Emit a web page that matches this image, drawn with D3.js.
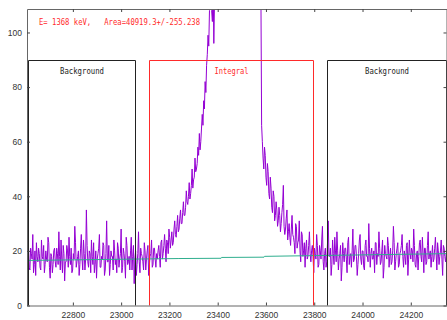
<!DOCTYPE html>
<html><head><meta charset="utf-8">
<script src="https://cdn.jsdelivr.net/npm/d3@7"></script>
<style>body{margin:0;background:#fff;} svg{display:block;}</style>
</head><body>
<svg id="c" width="447" height="320"></svg>
<script>
// ---- data ----
const channelStart = 22610;
const channelStep = 3;
// counts at even channels (22610, 22616, ...)
const countsA = [
  16,22,13,19,26,15,11,18,21,14,24,17,12,20,16,23,10,18,15,21,
  14,19,27,13,17,22,9,16,20,25,15,12,19,29,14,18,11,21,17,24,
  13,35,16,20,12,18,23,15,10,19,26,14,17,22,13,31,16,11,20,18,
  24,15,12,21,17,28,14,19,10,22,16,13,25,18,8,20,15,27,12,19,
  16,23,13,20,11,18,24,15,21,14,
  17,22,14,24,19,26,16,23,28,21,27,23,31,25,33,28,35,30,38,33,
  42,37,45,41,50,46,54,50,58,63,60,70,75,82,88,99,108,
  112,104,96,115,125,150,175,200,230,260,290,320,345,365,380,392,398,400,
  396,388,374,356,334,310,284,258,232,208,186,166,150,138,128,122,118,
  66,54,58,47,52,41,47,36,42,31,38,29,36,27,34,44,26,32,24,30,
  22,33,25,19,29,23,31,16,26,20,14,24,18,27,16,22,12,
  19,26,14,22,17,29,13,21,16,31,18,11,24,15,20,27,13,19,9,23,
  16,21,12,25,18,14,28,17,22,11,19,26,15,20,13,24,18,30,14,21,
  17,12,23,19,27,15,20,10,22,18,25,14,21,16,29,13,19,23,15,20,
  26,14,18,22,11,24,17,20,28,15,19,13,23,18,25,12,21,16,27,19,
  14,22,17,25,13,20,18,24,11,21,16,19
];
// counts at the channels in between (22613, 22619, ...)
const countsB = [
  18,14,21,17,12,20,23,16,19,13,18,22,15,17,25,14,19,12,20,16,
  21,15,18,24,12,19,16,22,14,18,21,13,17,23,16,20,15,26,13,19,
  17,22,14,19,24,15,12,20,17,21,14,18,23,11,19,16,22,15,18,13,
  20,17,23,14,19,12,21,16,25,15,18,20,13,22,17,11,19,16,21,18,
  13,20,17,22,15,19,14,21,17,19,
  20,18,23,17,22,21,24,19,25,24,22,28,26,29,27,32,30,34,33,36,
  38,40,39,44,43,47,49,52,55,57,65,66,72,78,92,95,115,
  108,120,112,130,140,160,188,215,245,275,305,332,355,372,386,395,399,398,
  392,381,365,345,322,297,271,245,220,197,176,158,144,133,125,120,116,
  60,50,55,44,49,39,43,34,40,33,35,31,33,30,37,29,28,35,27,25,
  28,26,23,30,21,24,20,27,18,23,21,17,22,19,20,18,21,
  17,22,15,20,24,16,19,14,23,18,21,15,19,25,16,20,17,22,14,19,
  21,17,23,15,19,20,16,22,18,15,24,17,20,14,22,18,16,21,19,17,
  20,23,15,18,21,16,24,14,19,17,22,18,15,20,23,16,21,14,19,22,
  18,20,15,23,17,19,21,16,22,14,20,18,24,16,19,21,15,22,17,20,
  18,16,21,19,23,15,20,17,22,18,19
];
const bgX = [22610, 23236, 23414, 23416, 23592, 23594, 24350];
const bgY = [16.5, 17.2, 17.3, 17.6, 17.7, 18.0, 19.0];
const xTicks = [22800, 23000, 23200, 23400, 23600, 23800, 24000, 24200];
const yTicks = [0, 20, 40, 60, 80, 100];
const regionNames = ["Background", "Integral", "Background"];
const regionStart = [22616, 23116, 23853];
const regionEnd = [23062, 23800, 24350];
const regionTop = 90;
const headerText = "E= 1368 keV,   Area=40919.3+/-255.238";

// interleave the two typed lists into channel order
const counts = [];
countsA.forEach((v, i) => { counts.push(v); if (i < countsB.length) counts.push(countsB[i]); });

// ---- scales ----
const svg = d3.select("#c");
const x = d3.scaleLinear().domain([22610, 24350]).range([27, 447]);
const y = d3.scaleLinear().domain([0, 108.6]).range([305.5, 9]);

svg.append("defs").append("clipPath").attr("id", "clip")
  .append("rect").attr("x", 27).attr("y", 9).attr("width", 420).attr("height", 296.5);

// spectrum
const pts = counts.map((v, i) => [channelStart + i * channelStep, v]);
svg.append("path")
  .attr("clip-path", "url(#clip)")
  .attr("d", d3.line().x(d => x(d[0])).y(d => y(d[1]))(pts))
  .attr("fill", "none").attr("stroke", "#9400d3").attr("stroke-width", 1);

// background fit line
svg.append("path")
  .attr("clip-path", "url(#clip)")
  .attr("d", d3.line().x(d => x(d[0])).y(d => y(d[1]))(bgX.map((v, i) => [v, bgY[i]])))
  .attr("fill", "none").attr("stroke", "#2fae8e").attr("stroke-width", 1);

// region boxes
const regionColors = ["#222", "#ff2a2a", "#222"];
regionNames.forEach((name, i) => {
  const x0 = Math.round(x(regionStart[i])) + 0.5;
  const x1 = Math.round(x(regionEnd[i])) - 0.5;
  const yt = Math.round(y(regionTop)) + 0.5;
  const yb = y(0);
  svg.append("path")
    .attr("d", `M${x0},${yb}V${yt}H${x1}V${yb}`)
    .attr("fill", "none").attr("stroke", regionColors[i]).attr("stroke-width", 1);
  const tl = name === "Integral" ? 34 : 44;
  svg.append("text")
    .attr("x", (x0 + x1) / 2 - tl / 2).attr("y", 74)
    .attr("textLength", tl).attr("lengthAdjust", "spacingAndGlyphs")
    .attr("font-family", "DejaVu Sans Mono, monospace").attr("font-size", 8.5)
    .attr("fill", i === 1 ? "#ff2a2a" : "#222")
    .text(name);
});

// axes
const fontFam = "Liberation Sans, Arial, sans-serif";
const gx = svg.append("g").attr("transform", `translate(0,${y(0)})`)
  .call(d3.axisBottom(x).tickValues(xTicks).tickFormat(d3.format("d")).tickSizeInner(-3).tickSizeOuter(0).tickPadding(6));
const gxt = svg.append("g").attr("transform", `translate(0,${y(108.6)})`)
  .call(d3.axisTop(x).tickValues(xTicks).tickFormat("").tickSizeInner(-3).tickSizeOuter(0));
const gy = svg.append("g").attr("transform", `translate(27,0)`)
  .call(d3.axisLeft(y).tickValues(yTicks).tickSizeInner(-3).tickSizeOuter(0).tickPadding(5));
const gyr = svg.append("g").attr("transform", `translate(446.5,0)`)
  .call(d3.axisRight(y).tickValues(yTicks).tickFormat("").tickSizeInner(-3).tickSizeOuter(0));
[gx, gxt, gy, gyr].forEach(g => {
  g.select(".domain").attr("stroke", "#666");
  g.selectAll(".tick line").attr("stroke", "#444");
  g.selectAll("text").attr("font-family", fontFam).attr("font-size", 8.5).attr("fill", "#333");
});

// header
svg.append("text")
  .attr("x", 39).attr("y", 25)
  .attr("textLength", 161).attr("lengthAdjust", "spacingAndGlyphs")
  .style("white-space", "pre")
  .attr("font-family", "DejaVu Sans Mono, monospace").attr("font-size", 9)
  .attr("fill", "#ff2a2a")
  .text(headerText);
</script>
</body></html>
